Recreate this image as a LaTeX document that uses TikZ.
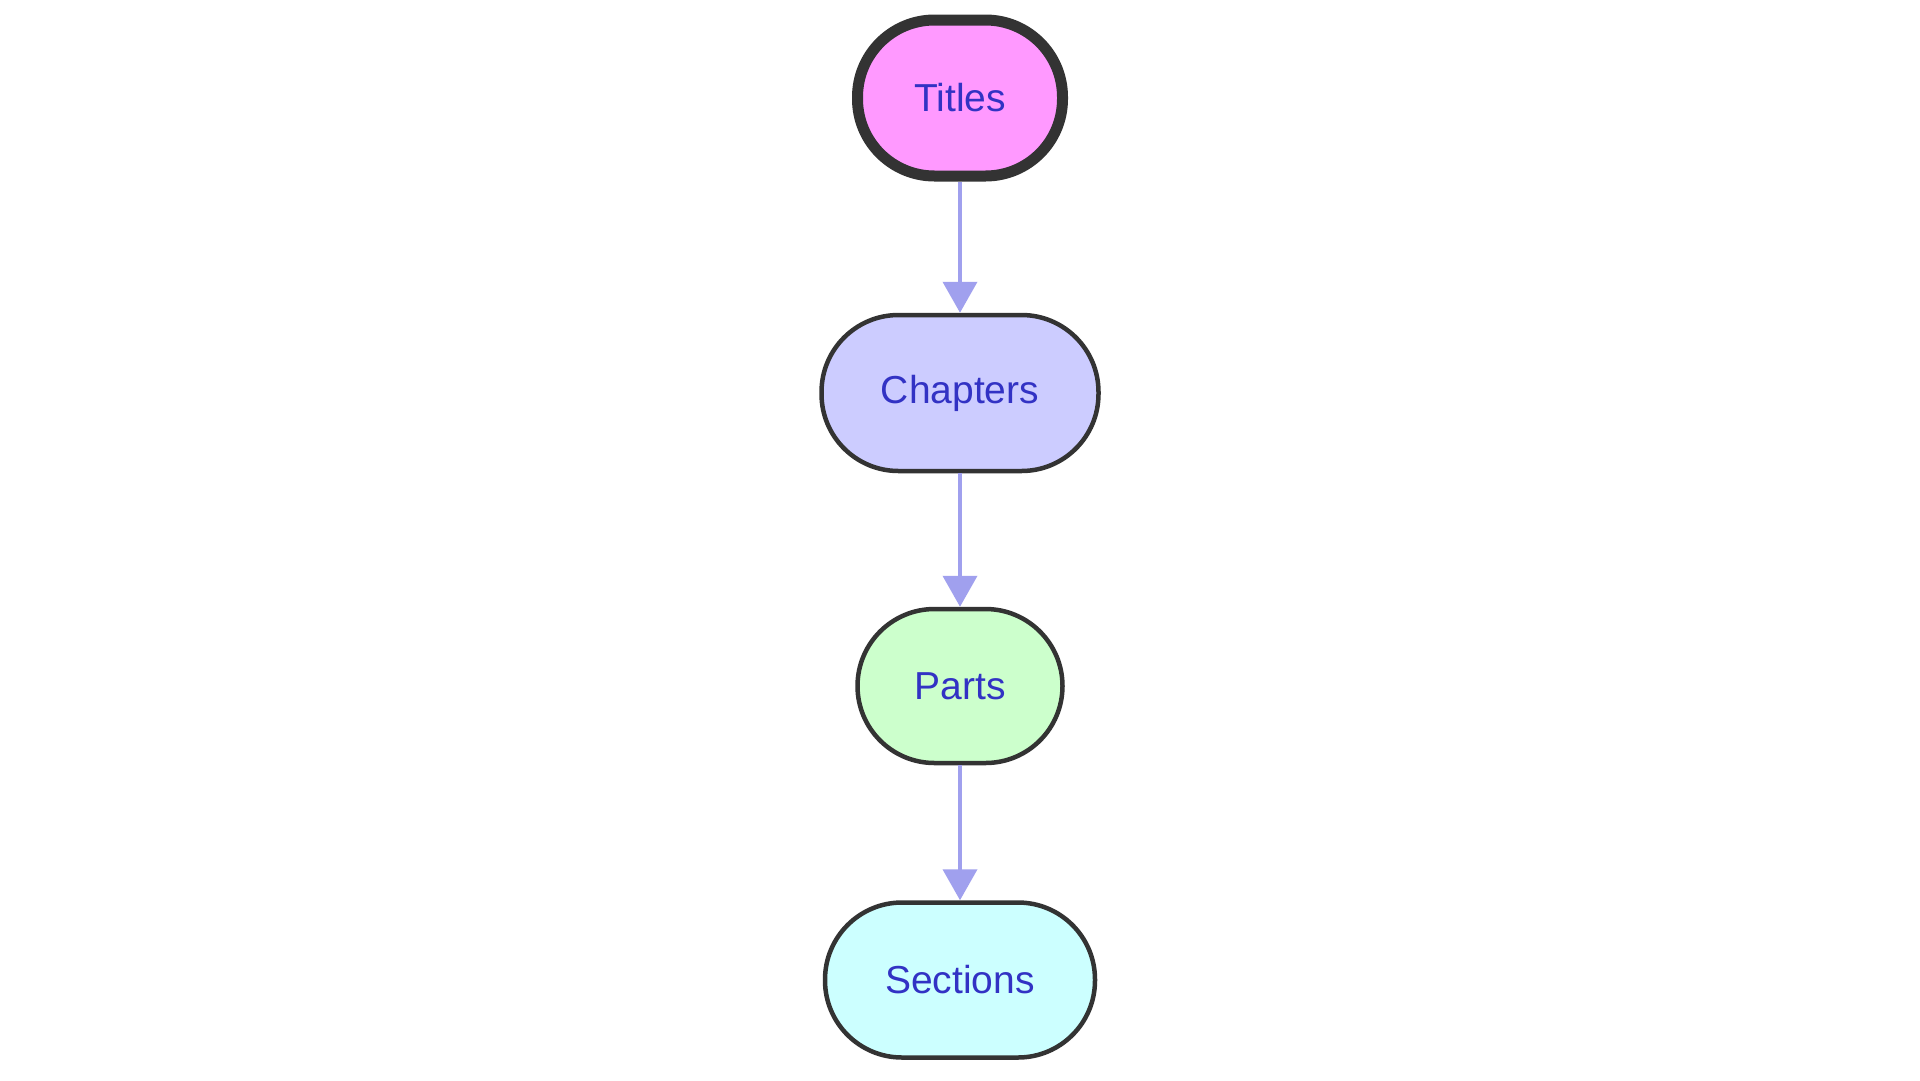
\documentclass[tikz,border=0pt]{standalone}
\usepackage{fontspec}
\setmainfont{Liberation Sans}
\usetikzlibrary{arrows.meta}
\definecolor{edgecol}{HTML}{A0A0EE}
\definecolor{txtcol}{HTML}{3232C4}
\definecolor{bordercol}{HTML}{333333}
\definecolor{titlesfill}{HTML}{FF99FF}
\definecolor{chaptersfill}{HTML}{CCCCFF}
\definecolor{partsfill}{HTML}{CCFFCC}
\definecolor{sectionsfill}{HTML}{CCFFFF}
\begin{document}
\begin{tikzpicture}[x=1pt,y=-1pt,
  stadium/.style={draw=bordercol, line width=4.5pt, rectangle, rounded corners=77pt,
    minimum height=155pt, inner sep=0pt, text=txtcol,
    font=\fontsize{39}{47}\selectfont},
  flow/.style={draw=edgecol, line width=4pt, -{Triangle[length=31pt,width=34pt]}}]
\useasboundingbox[fill=white] (0,0) rectangle (1920,1080);
\node[stadium, fill=titlesfill, line width=11pt, minimum width=205pt, minimum height=156pt] (titles) at (960,98) {Titles};
\node[stadium, fill=chaptersfill, minimum width=277pt, minimum height=156pt] (chapters) at (960,393) {Chapters};
\node[stadium, fill=partsfill, minimum width=205pt, minimum height=154pt] (parts) at (960,686) {Parts};
\node[stadium, fill=sectionsfill, minimum width=270pt] (sections) at (960,980) {Sections};
\draw[flow] (titles) -- (chapters);
\draw[flow] (chapters) -- (parts);
\draw[flow] (parts) -- (sections);
\end{tikzpicture}
\end{document}
